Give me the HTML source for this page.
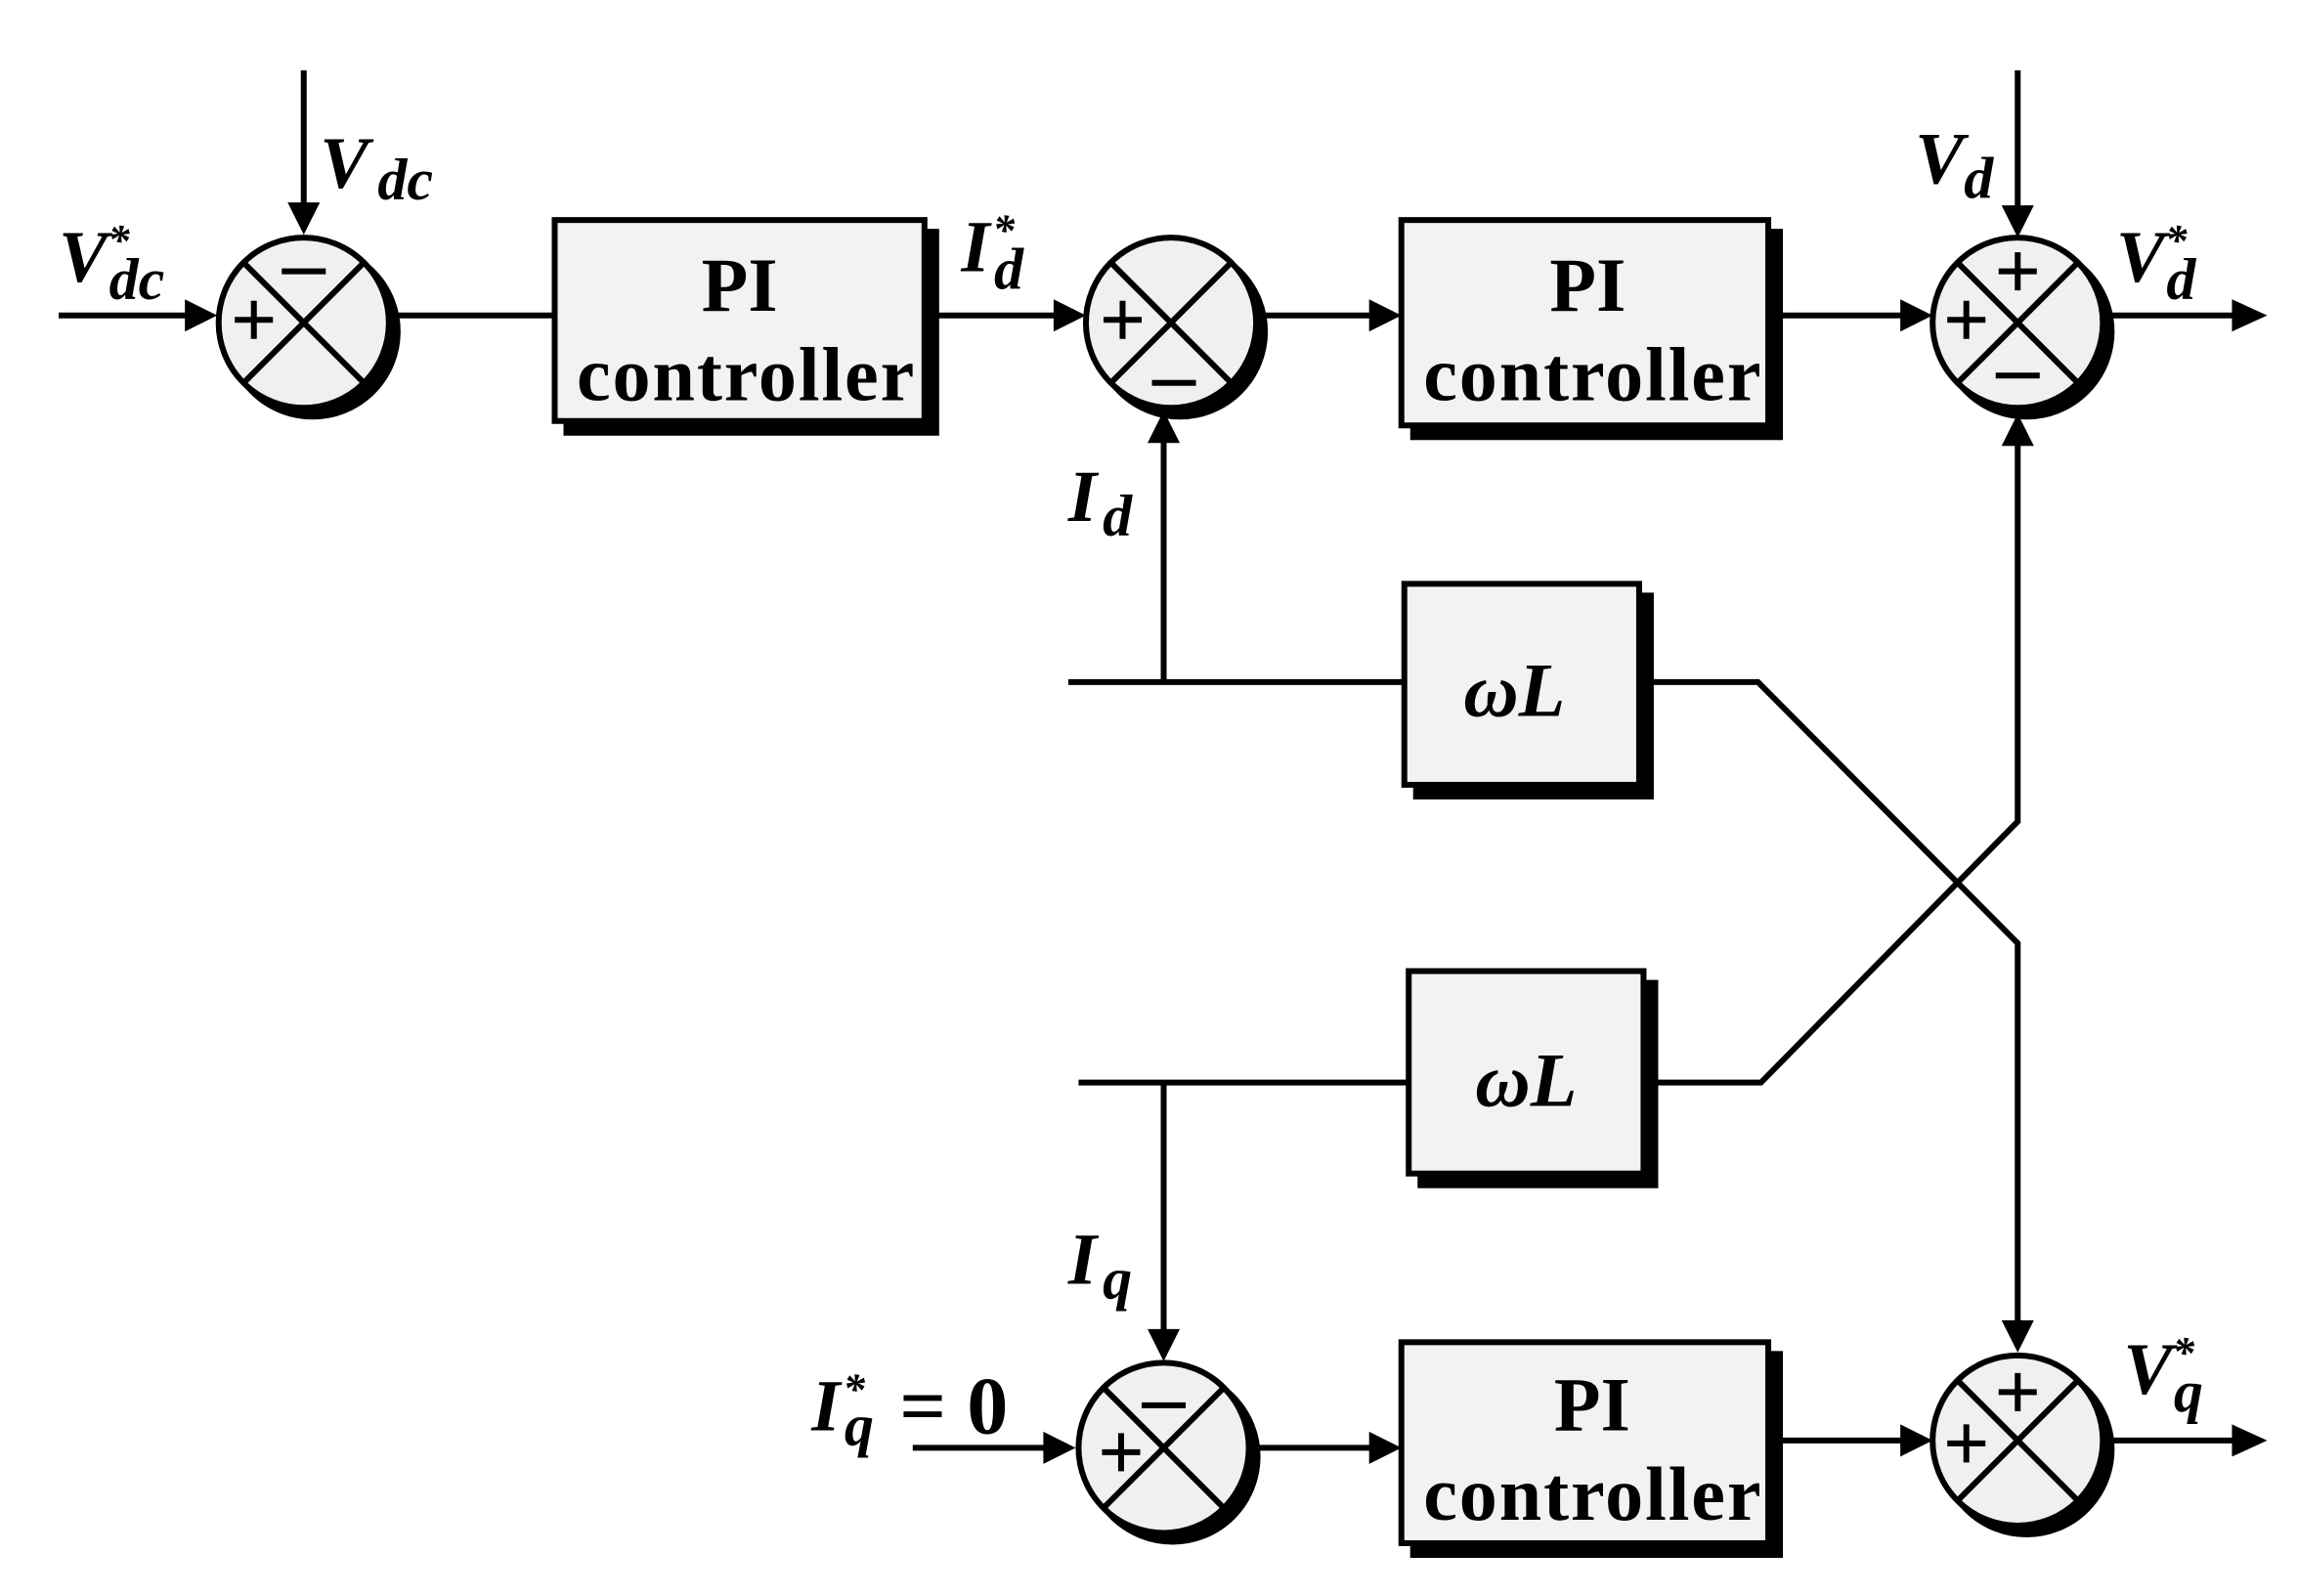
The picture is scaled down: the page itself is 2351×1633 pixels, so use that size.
<!DOCTYPE html>
<html><head><style>html,body{margin:0;padding:0;background:#fff}svg{display:block}</style></head>
<body>
<svg width="2351" height="1633" viewBox="0 0 1566 1088" preserveAspectRatio="none" xmlns="http://www.w3.org/2000/svg">
<g stroke="#000" stroke-width="4" fill="none">
<line x1="40" y1="215" x2="130" y2="215"/>
<line x1="207" y1="48" x2="207" y2="140"/>
<line x1="265" y1="215" x2="378" y2="215"/>
<line x1="630" y1="215" x2="722" y2="215"/>
<line x1="857" y1="215" x2="937" y2="215"/>
<line x1="1205" y1="215" x2="1298" y2="215"/>
<line x1="1435" y1="215" x2="1525" y2="215"/>
<line x1="1375" y1="48" x2="1375" y2="142"/>
<line x1="793" y1="465" x2="793" y2="298"/>
<line x1="728" y1="465" x2="957" y2="465"/>
<polyline points="1117,465 1198,465 1375,643 1375,903"/>
<line x1="735" y1="738" x2="960" y2="738"/>
<polyline points="1120,738 1200,738 1375,560 1375,300"/>
<line x1="793" y1="738" x2="793" y2="910"/>
<line x1="622" y1="987" x2="715" y2="987"/>
<line x1="853" y1="987" x2="937" y2="987"/>
<line x1="1213" y1="982" x2="1298" y2="982"/>
<line x1="1435" y1="982" x2="1525" y2="982"/>
</g>
<g fill="#000">
<polygon points="148,215 126,204 126,226"/>
<polygon points="207,160 196,138 218,138"/>
<polygon points="740,215 718,204 718,226"/>
<polygon points="955,215 933,204 933,226"/>
<polygon points="1317,215 1295,204 1295,226"/>
<polygon points="1545,215 1521,204 1521,226"/>
<polygon points="1375,162 1364,140 1386,140"/>
<polygon points="793,280 782,302 804,302"/>
<polygon points="1375,922 1364,900 1386,900"/>
<polygon points="1375,282 1364,304 1386,304"/>
<polygon points="793,928 782,906 804,906"/>
<polygon points="733,987 711,976 711,998"/>
<polygon points="955,987 933,976 933,998"/>
<polygon points="1317,982 1295,971 1295,993"/>
<polygon points="1545,982 1521,971 1521,993"/>
</g>
<g stroke="#000" stroke-width="4">
<rect x="386" y="158" width="252" height="137" fill="#000"/>
<rect x="378" y="150" width="252" height="137" fill="#f2f2f2"/>
<rect x="963" y="158" width="250" height="140" fill="#000"/>
<rect x="955" y="150" width="250" height="140" fill="#f2f2f2"/>
<rect x="965" y="406" width="160" height="137" fill="#000"/>
<rect x="957" y="398" width="160" height="137" fill="#f2f2f2"/>
<rect x="968" y="670" width="160" height="138" fill="#000"/>
<rect x="960" y="662" width="160" height="138" fill="#f2f2f2"/>
<rect x="963" y="923" width="250" height="137" fill="#000"/>
<rect x="955" y="915" width="250" height="137" fill="#f2f2f2"/>
</g>
<g stroke="#000" stroke-width="4">
<g transform="translate(207,220)"><circle cx="6" cy="6" r="58" fill="#000"/><circle r="58" fill="#f0f0f0"/><line x1="-41" y1="-41" x2="41" y2="41"/><line x1="41" y1="-41" x2="-41" y2="41"/></g>
<g transform="translate(798,220)"><circle cx="6" cy="6" r="58" fill="#000"/><circle r="58" fill="#f0f0f0"/><line x1="-41" y1="-41" x2="41" y2="41"/><line x1="41" y1="-41" x2="-41" y2="41"/></g>
<g transform="translate(1375,220)"><circle cx="6" cy="6" r="58" fill="#000"/><circle r="58" fill="#f0f0f0"/><line x1="-41" y1="-41" x2="41" y2="41"/><line x1="41" y1="-41" x2="-41" y2="41"/></g>
<g transform="translate(793,987)"><circle cx="6" cy="6" r="58" fill="#000"/><circle r="58" fill="#f0f0f0"/><line x1="-41" y1="-41" x2="41" y2="41"/><line x1="41" y1="-41" x2="-41" y2="41"/></g>
<g transform="translate(1375,982)"><circle cx="6" cy="6" r="58" fill="#000"/><circle r="58" fill="#f0f0f0"/><line x1="-41" y1="-41" x2="41" y2="41"/><line x1="41" y1="-41" x2="-41" y2="41"/></g>
</g>
<g stroke="#000" stroke-width="4">
<path d="M160 218h26M173 205v26"/><path d="M192 185h30"/>
<path d="M752 218h26M765 205v26"/><path d="M785 261h30"/>
<path d="M1362 185h26M1375 172v26"/><path d="M1327 218h26M1340 205v26"/><path d="M1360 256h30"/>
<path d="M778 958h30"/><path d="M751 990h26M764 977v26"/>
<path d="M1362 949h26M1375 936v26"/><path d="M1327 984h26M1340 971v26"/>
</g>
<g font-family="'Liberation Serif',serif" font-weight="bold" font-size="52" fill="#000" text-anchor="middle">
<text x="504" y="212">PI</text><text x="508" y="273" textLength="230">controller</text>
<text x="1082" y="212">PI</text><text x="1085" y="273" textLength="230">controller</text>
<text x="1085" y="975">PI</text><text x="1085" y="1036" textLength="230">controller</text>
<text x="1032" y="488" font-style="italic">ωL</text>
<text x="1040" y="754" font-style="italic">ωL</text>
</g>
<g font-family="'Liberation Serif',serif" font-weight="bold" font-style="italic" fill="#000" font-size="50">
<text x="218" y="128">V<tspan font-size="40" dx="6" dy="8">dc</tspan></text>
<text x="40" y="192">V<tspan font-size="30" dy="-18" dx="0">*</tspan><tspan font-size="40" dx="-14" dy="30">dc</tspan></text>
<text x="655" y="185">I<tspan font-size="30" dy="-18" dx="2">*</tspan><tspan font-size="40" dx="-14" dy="30">d</tspan></text>
<text x="728" y="355">I<tspan font-size="40" dx="4" dy="10">d</tspan></text>
<text x="1305" y="125">V<tspan font-size="40" dx="0" dy="10">d</tspan></text>
<text x="1442" y="192">V<tspan font-size="30" dy="-18">*</tspan><tspan font-size="40" dx="-14" dy="30">d</tspan></text>
<text x="728" y="875">I<tspan font-size="40" dx="4" dy="10">q</tspan></text>
<text x="553" y="975">I<tspan font-size="30" dy="-18" dx="2">*</tspan><tspan font-size="40" dx="-14" dy="28">q</tspan></text>
<text x="613" y="977" font-style="normal" font-size="56">= 0</text>
<text x="1447" y="950">V<tspan font-size="30" dy="-18">*</tspan><tspan font-size="40" dx="-14" dy="30">q</tspan></text>
</g>
</svg>
</body></html>
